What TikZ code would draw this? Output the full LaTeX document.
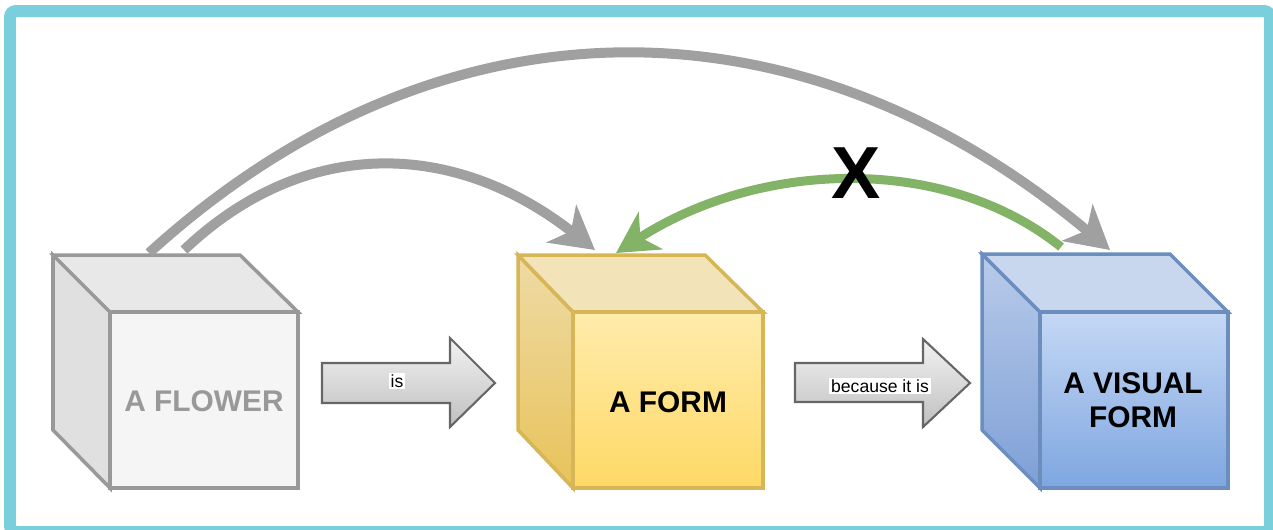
\documentclass[tikz,border=0pt]{standalone}
\usepackage{fontspec}
\setmainfont{Liberation Sans}
\usetikzlibrary{arrows.meta}

\definecolor{framecol}{HTML}{7ACFDD}
\definecolor{arcgray}{HTML}{A0A0A0}
\definecolor{nogreen}{HTML}{82B366}
\definecolor{flowerline}{HTML}{999999}
\definecolor{formline}{HTML}{D6B656}
\definecolor{visualline}{HTML}{6C8EBF}

\tikzset{
  bigarc/.style={line width=0.2cm, draw=arcgray,
    -{Stealth[length=0.85cm, width=0.95cm, inset=0.24cm]}},
  greenarc/.style={line width=0.18cm, draw=nogreen,
    -{Stealth[length=0.82cm, width=0.88cm, inset=0.24cm]}},
  cubeline/.style={line width=2pt, line join=miter},
  blockarrow/.style={line width=1.2pt, draw=black!60, top color=black!5, bottom color=black!25},
  cubetext/.style={font=\fontsize{17}{19.5}\selectfont\bfseries, align=center},
  smalllabel/.style={fill=white, inner sep=1pt, font=\fontsize{10}{12}\selectfont}
}

\begin{document}
\begin{tikzpicture}[x=0.02cm, y=-0.02cm]
    \useasboundingbox (0,0) rectangle (1273,529);
    \clip (0,0) rectangle (1273,529);
    % frame
    \draw[framecol, line width=0.24cm, rounded corners=0.12cm] (10,11) rectangle (1270,532);

    % cube: a flower
    \filldraw[cubeline, draw=flowerline, fill=black!12] (53,255) -- (110,312) -- (110,488) -- (53,430) -- cycle;
    \filldraw[cubeline, draw=flowerline, fill=black!9] (53,255) -- (240,255) -- (298,312) -- (110,312) -- cycle;
    \filldraw[cubeline, draw=flowerline, fill=black!4] (110,312) rectangle (298,488);

    % cube: a form
    \shadedraw[cubeline, draw=formline, top color={rgb,255:red,238;green,219;blue,165}, bottom color={rgb,255:red,232;green,195;blue,90}]
        (518,255) -- (573,312) -- (573,488) -- (518,430) -- cycle;
    \filldraw[cubeline, draw=formline, fill={rgb,255:red,243;green,227;blue,185}] (518,255) -- (705,255) -- (763,312) -- (573,312) -- cycle;
    \shadedraw[cubeline, draw=formline, top color={rgb,255:red,255;green,236;blue,172}, bottom color={rgb,255:red,255;green,217;blue,102}]
        (573,312) rectangle (763,488);

    % cube: a visual form
    \shadedraw[cubeline, draw=visualline, top color={rgb,255:red,184;green,203;blue,234}, bottom color={rgb,255:red,126;green,159;blue,214}]
        (982,254) -- (1040,312) -- (1040,488) -- (982,430) -- cycle;
    \filldraw[cubeline, draw=visualline, fill={rgb,255:red,201;green,215;blue,238}] (982,254) -- (1170,254) -- (1228,312) -- (1040,312) -- cycle;
    \shadedraw[cubeline, draw=visualline, top color={rgb,255:red,197;green,216;blue,245}, bottom color={rgb,255:red,126;green,166;blue,224}]
        (1040,312) rectangle (1228,488);

    % texts on the cubes
    \node[cubetext, text=flowerline] (flower) at (204,401) {A FLOWER};
    \node[cubetext] (form) at (668,402) {A FORM};
    \node[cubetext] (visual) at (1133,400) {A VISUAL\\FORM};

    % block arrows
    \draw[blockarrow] (322,363) -- (450,363) -- (450,338) -- (495,383) -- (450,427) -- (450,403) -- (322,403) -- cycle;
    \draw[blockarrow] (795,363) -- (923,363) -- (923,339) -- (970,383) -- (923,427) -- (923,402) -- (795,402) -- cycle;
    \node[smalllabel] (is) at (397,381) {is};
    \node[smalllabel] (because) at (880,386) {because it is};

    % ends of the arcs
    \coordinate (flowerout) at (149,253);
    \coordinate (flowerin) at (184,250);
    \coordinate (formtop) at (595,250);
    \coordinate (formback) at (616,253);
    \coordinate (visualtop) at (1110,250);
    \coordinate (visualback) at (1061,247);

    \draw[bigarc] (flowerout) .. controls (440,-12) and (800,-10) .. (visualtop);
    \draw[bigarc] (flowerin) .. controls (305,135) and (455,140) .. (formtop);
    \draw[greenarc] (visualback) .. controls (945,154) and (760,160) .. (formback);
    \node[font=\fontsize{42}{42}\selectfont\bfseries] (cross) at (856,173) {X};
\end{tikzpicture}
\end{document}
